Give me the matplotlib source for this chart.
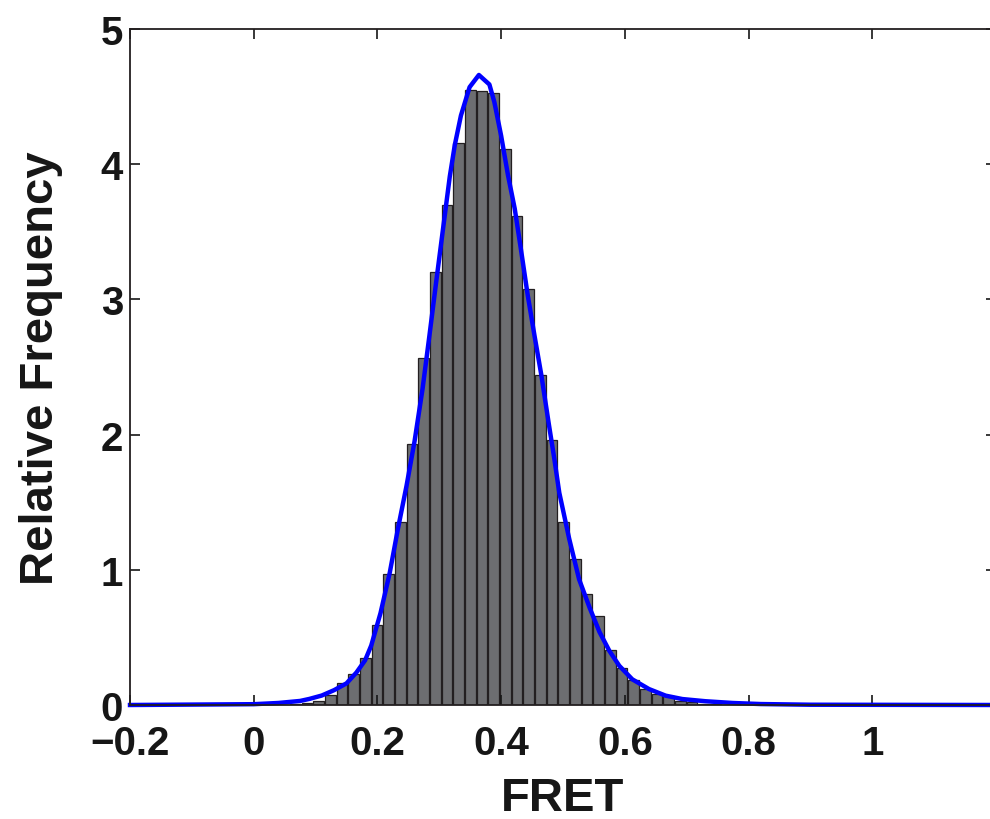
import matplotlib
matplotlib.use("Agg")
import matplotlib.pyplot as plt

# histogram bins (centres) and relative frequencies
bin_centers = [0.0673, 0.0861, 0.1050, 0.1239, 0.1427, 0.1616, 0.1804, 0.1993,
               0.2182, 0.2370, 0.2559, 0.2747, 0.2936, 0.3125, 0.3313, 0.3502,
               0.3690, 0.3879, 0.4068, 0.4256, 0.4445, 0.4633, 0.4822, 0.5011,
               0.5199, 0.5388, 0.5576, 0.5765, 0.5954, 0.6142, 0.6331, 0.6519,
               0.6708, 0.6897, 0.7085, 0.7274, 0.7462]
rel_freq = [0.005, 0.012, 0.03, 0.072, 0.163, 0.23, 0.35, 0.59,
            0.97, 1.35, 1.93, 2.57, 3.20, 3.70, 4.16, 4.55,
            4.54, 4.53, 4.11, 3.62, 3.08, 2.44, 1.96, 1.35,
            1.08, 0.82, 0.66, 0.41, 0.27, 0.185, 0.12, 0.08,
            0.063, 0.032, 0.02, 0.01, 0.005]
bin_width = 0.01886

# fitted curve
fit_x = [-0.2, 0.0, 0.04, 0.075, 0.09, 0.11, 0.13, 0.15, 0.166, 0.18, 0.19,
         0.205, 0.22, 0.233, 0.247, 0.26, 0.273, 0.284, 0.295, 0.306, 0.317,
         0.325, 0.335, 0.349, 0.364, 0.381, 0.389, 0.400, 0.411, 0.422, 0.432,
         0.443, 0.454, 0.465, 0.477, 0.486, 0.494, 0.510, 0.526, 0.543, 0.559,
         0.575, 0.591, 0.612, 0.639, 0.666, 0.693, 0.73, 0.774, 0.82, 0.9, 1.2]
fit_y = [0.0, 0.006, 0.015, 0.03, 0.045, 0.07, 0.11, 0.16, 0.24, 0.33, 0.44,
         0.68, 0.98, 1.30, 1.62, 1.95, 2.34, 2.73, 3.13, 3.52, 3.91,
         4.14, 4.36, 4.57, 4.66, 4.59, 4.46, 4.21, 3.92, 3.67, 3.37,
         3.03, 2.73, 2.44, 2.08, 1.82, 1.57, 1.23, 0.93, 0.72, 0.54,
         0.40, 0.29, 0.19, 0.118, 0.069, 0.044, 0.028, 0.015, 0.007, 0.002, 0.0]

x_ticks = [-0.2, 0, 0.2, 0.4, 0.6, 0.8, 1]
x_tick_labels = ["\u22120.2", "0", "0.2", "0.4", "0.6", "0.8", "1"]
y_ticks = [0, 1, 2, 3, 4, 5]

TEXT = "#161616"
plt.rcParams["font.family"] = ["Liberation Sans", "DejaVu Sans"]
plt.rcParams["font.weight"] = "bold"

fig = plt.figure(figsize=(9.9, 8.2), dpi=100)
ax = fig.add_axes([130 / 990, 1 - 706 / 820, (996 - 130) / 990, 676 / 820])

ax.bar(bin_centers, rel_freq, width=bin_width * 0.9, color="#6d6e71",
       edgecolor="#231f20", linewidth=0.9, zorder=1)
ax.plot(fit_x, fit_y, color="#0000ff", linewidth=3.2, clip_on=False, zorder=2)

ax.set_xlim(-0.2, 1.2)
ax.set_ylim(0, 5)
ax.set_xticks(x_ticks)
ax.set_xticklabels(x_tick_labels)
ax.set_yticks(y_ticks)
ax.tick_params(direction="in", length=7, width=1.2, top=True, right=True,
               labelsize=29, colors=TEXT)
ax.tick_params(axis="x", pad=14)
ax.tick_params(axis="y", pad=5)
for label in ax.get_xticklabels() + ax.get_yticklabels():
    label.set_fontweight("bold")
for spine in ax.spines.values():
    spine.set_linewidth(1.3)
    spine.set_color("#231f20")

ax.set_xlabel("FRET", fontsize=34, fontweight="bold", color=TEXT, labelpad=10)
ax.set_ylabel("Relative Frequency", fontsize=34, fontweight="bold", color=TEXT,
              labelpad=27)

fig.savefig("out.png", dpi=100)
